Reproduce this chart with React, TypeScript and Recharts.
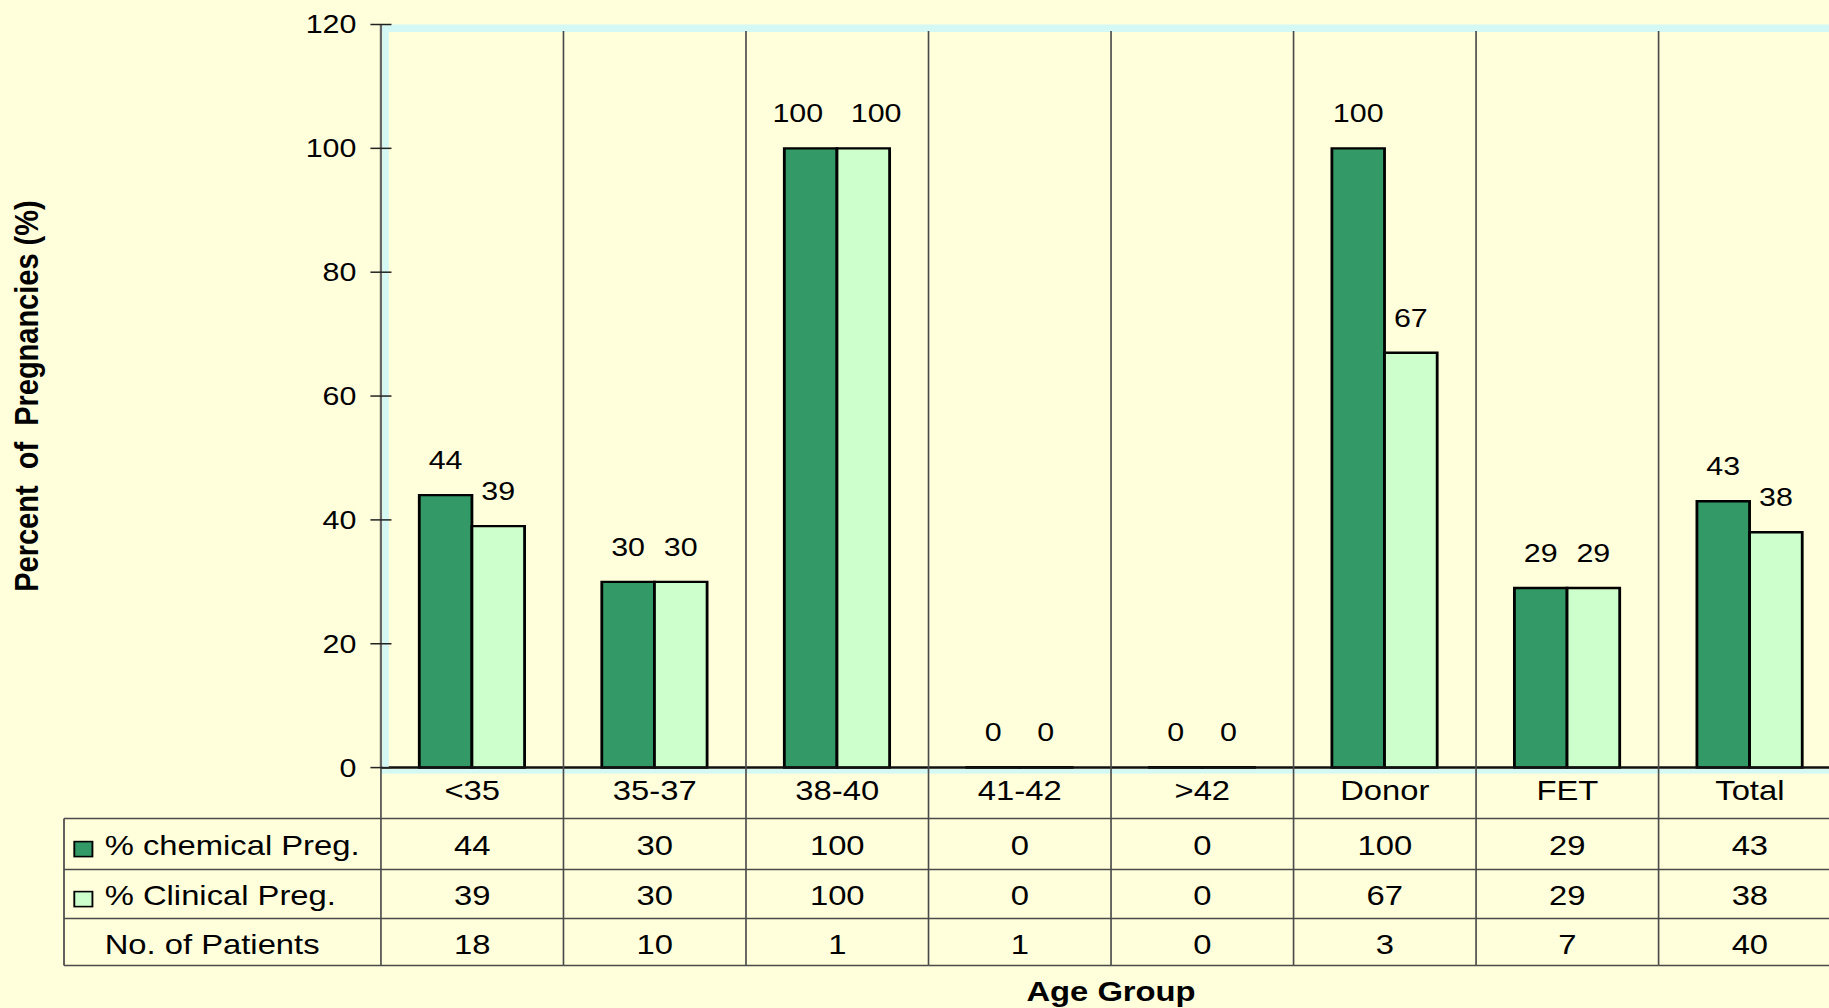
import React from "react";
import { BarChart, Bar, XAxis, YAxis, LabelList, ReferenceArea } from "recharts";

const categories = ["<35", "35-37", "38-40", "41-42", ">42", "Donor", "FET", "Total"];
const chemicalPreg = [44, 30, 100, 0, 0, 100, 29, 43];
const clinicalPreg = [39, 30, 100, 0, 0, 67, 29, 38];
const patients = [18, 10, 1, 1, 0, 3, 7, 40];
const yTicks = [0, 20, 40, 60, 80, 100, 120];

const DARK = "#339966";
const LIGHT = "#CCFFCC";
const BG = "#FFFFDB";
const CYAN = "#D4F8F4";
const GRID = "#4a4a4a";
const FONT = "'Liberation Sans', Arial, sans-serif";

const tableRows = [
  { label: "% chemical Preg.", values: chemicalPreg, swatch: DARK },
  { label: "% Clinical Preg.", values: clinicalPreg, swatch: LIGHT },
  { label: "No. of Patients", values: patients, swatch: "" },
];

const data = categories.map((group, i) => ({
  group,
  chemical: chemicalPreg[i],
  clinical: clinicalPreg[i],
}));

// the original slide is stretched sideways, so the chart is drawn narrower and scaled
const STRETCH = 1.17;
const CHART_W = 1600;
const CHART_H = 1008;
const Y_AXIS_W = 325.6;
const BAND = 156;
const PLOT_TOP = 24.5;
const X_AXIS_H = 200;
const TABLE_LEFT = 54.7;
const SEP_TOP = 31;
const ROW_LINES = [51, 102, 151, 198];
const TEXT_BASE = [32, 87, 137, 186];
const LABEL_SIZE = 26;

function TableTick(props: any) {
  const { x, y, index } = props;
  const left = x - BAND / 2;
  const right = x + BAND / 2;
  const bottom = y + ROW_LINES[3];
  const last = index === categories.length - 1;
  return (
    <g>
      {index === 0 && (
        <g>
          <rect x={left + 1.2} y={PLOT_TOP} width={5.5} height={y - PLOT_TOP} fill={CYAN} />
          <rect x={left} y={y + 1.5} width={BAND * categories.length} height={4.5} fill={CYAN} />
          <line x1={TABLE_LEFT} x2={TABLE_LEFT} y1={y + ROW_LINES[0]} y2={bottom} stroke={GRID} strokeWidth={1.5} />
          {ROW_LINES.map((d) => (
            <line key={d} x1={TABLE_LEFT} x2={left} y1={y + d} y2={y + d} stroke={GRID} strokeWidth={1.5} />
          ))}
          {tableRows.map((r, k) => (
            <g key={r.label}>
              {r.swatch && (
                <rect x={63.5} y={y + TEXT_BASE[k + 1] - 13} width={15.5} height={15}
                  fill={r.swatch} stroke="#000" strokeWidth={1.6} />
              )}
              <text x={89.5} y={y + TEXT_BASE[k + 1]} fontSize={28} fontFamily={FONT} fill="#000">
                {r.label}
              </text>
            </g>
          ))}
        </g>
      )}
      <line x1={left} x2={left} y1={index === 0 ? y : SEP_TOP} y2={bottom} stroke={GRID} strokeWidth={1.4} />
      {last && <line x1={right} x2={right} y1={SEP_TOP} y2={bottom} stroke={GRID} strokeWidth={1.4} />}
      {ROW_LINES.map((d) => (
        <line key={d} x1={left} x2={right} y1={y + d} y2={y + d} stroke={GRID} strokeWidth={1.5} />
      ))}
      <text x={x} y={y + TEXT_BASE[0]} textAnchor="middle" fontSize={28} fontFamily={FONT} fill="#000">
        {categories[index]}
      </text>
      {tableRows.map((r, k) => (
        <text key={r.label} x={x} y={y + TEXT_BASE[k + 1]} textAnchor="middle" fontSize={28}
          fontFamily={FONT} fill="#000">
          {r.values[index]}
        </text>
      ))}
    </g>
  );
}

function YTick(props: any) {
  const { x, y, payload } = props;
  return (
    <g>
      <line x1={Y_AXIS_W - 9} x2={Y_AXIS_W + 9} y1={y} y2={y} stroke="#222" strokeWidth={1.5} />
      <text x={x} y={y} dy={9} textAnchor="end" fontSize={26} fontFamily={FONT} fill="#000">
        {payload.value}
      </text>
    </g>
  );
}

function YTitle(props: any) {
  const vb = props.viewBox;
  const cx = 22;
  const cy = vb ? vb.y + vb.height / 2 : 396;
  return (
    <text x={cx} y={cy} transform={`rotate(-90 ${cx} ${cy})`} textAnchor="middle"
      dominantBaseline="central" fontSize={29} fontWeight="bold" fontFamily={FONT}
      fill="#000" style={{ whiteSpace: "pre" }}>
      {"Percent  of  Pregnancies (%)"}
    </text>
  );
}

// value labels; when the two labels of a group sit level and are wider than a bar,
// push them apart the way the original did
function barLabel(other: number[], side: number) {
  return (p: any) => {
    const { x, y, width, value, index } = p;
    const text = String(value);
    const textW = text.length * 0.556 * LABEL_SIZE;
    const level = Math.abs(Number(value) - other[index]) < 5;
    const nudge = level && textW > width * 0.85 ? side * 11 : 0;
    return (
      <text x={x + width / 2 + nudge} y={y - 26} textAnchor="middle" fontSize={LABEL_SIZE}
        fontFamily={FONT} fill="#000">
        {text}
      </text>
    );
  };
}

export default function App() {
  return (
    <div style={{ position: "absolute", left: 0, top: 0, width: 1829, height: 1008, background: BG, overflow: "hidden" }}>
      <div style={{ width: CHART_W, height: CHART_H, transform: `scaleX(${STRETCH})`, transformOrigin: "0 0" }}>
        <BarChart
          width={CHART_W}
          height={CHART_H}
          data={data}
          margin={{ top: PLOT_TOP, right: CHART_W - Y_AXIS_W - BAND * categories.length, bottom: CHART_H - PLOT_TOP - 743.1 - X_AXIS_H, left: 0 }}
          barCategoryGap="21%"
          barGap={0}
        >
          <ReferenceArea y1={118.8} y2={120} fill={CYAN} fillOpacity={1} stroke="none" />
          <XAxis
            dataKey="group"
            height={X_AXIS_H}
            interval={0}
            tickLine={false}
            tickSize={0}
            tickMargin={0}
            axisLine={{ stroke: "#111", strokeWidth: 2.5 }}
            tick={<TableTick />}
            label={{ value: "Age Group", position: "bottom", offset: 14, fontSize: 28, fontWeight: "bold", fontFamily: FONT, fill: "#000" }}
          />
          <YAxis
            type="number"
            domain={[0, 120]}
            ticks={yTicks}
            width={Y_AXIS_W}
            tickLine={false}
            tickSize={9}
            tickMargin={12}
            axisLine={{ stroke: "#666", strokeWidth: 2 }}
            tick={<YTick />}
            label={{ content: <YTitle /> }}
          />
          <Bar dataKey="chemical" fill={DARK} stroke="#000" strokeWidth={2.4} minPointSize={0.5} isAnimationActive={false}>
            <LabelList dataKey="chemical" content={barLabel(clinicalPreg, -1)} />
          </Bar>
          <Bar dataKey="clinical" fill={LIGHT} stroke="#000" strokeWidth={2.4} minPointSize={0.5} isAnimationActive={false}>
            <LabelList dataKey="clinical" content={barLabel(chemicalPreg, 1)} />
          </Bar>
        </BarChart>
      </div>
    </div>
  );
}
